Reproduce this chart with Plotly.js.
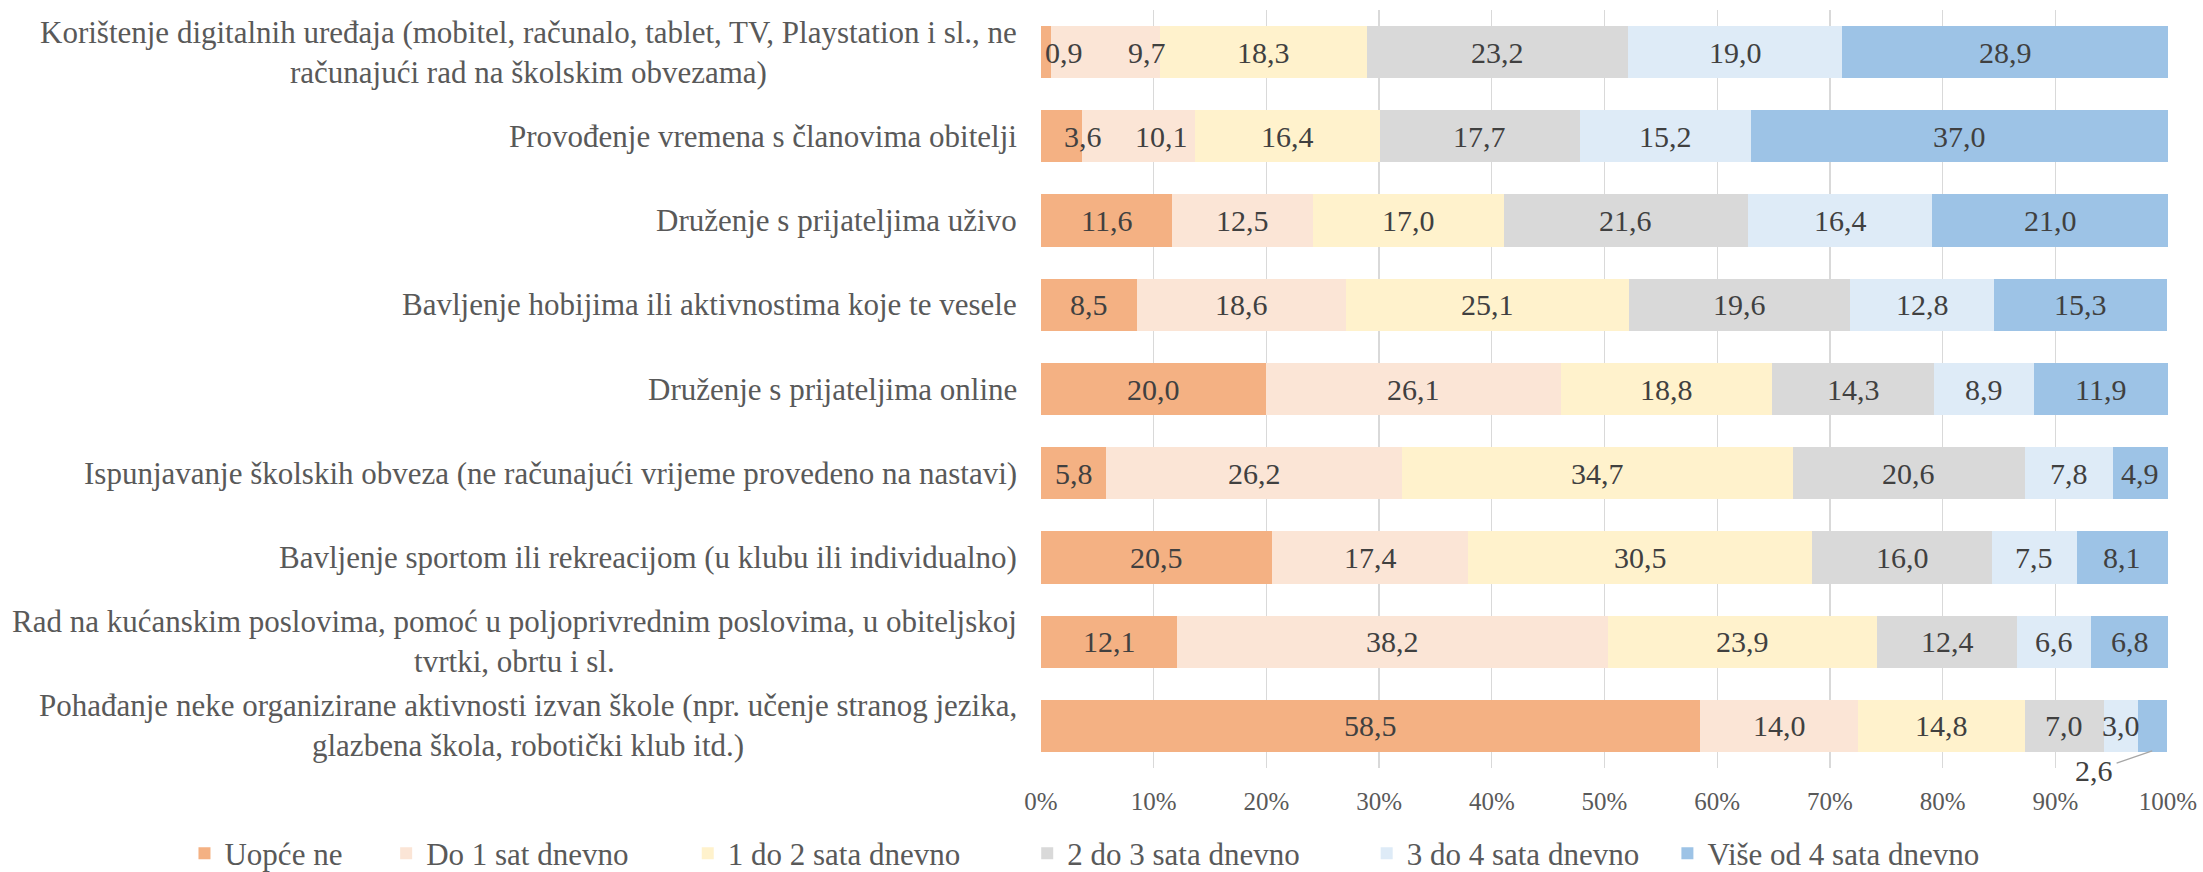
<!DOCTYPE html>
<html>
<head>
<meta charset="utf-8">
<script src="https://cdn.plot.ly/plotly-3.0.1.min.js"></script>
<style>html,body{margin:0;padding:0;background:#fff;}#chart{width:2203px;height:872px;}</style>
</head>
<body>
<div id="chart"></div>
<script>
const categories = [
  "Korištenje digitalnih uređaja (mobitel, računalo, tablet, TV, Playstation i sl., ne<br>računajući rad na školskim obvezama)",
  "Provođenje vremena s članovima obitelji",
  "Druženje s prijateljima uživo",
  "Bavljenje hobijima ili aktivnostima koje te vesele",
  "Druženje s prijateljima online",
  "Ispunjavanje školskih obveza (ne računajući vrijeme provedeno na nastavi)",
  "Bavljenje sportom ili rekreacijom (u klubu ili individualno)",
  "Rad na kućanskim poslovima, pomoć u poljoprivrednim poslovima, u obiteljskoj<br>tvrtki, obrtu i sl.",
  "Pohađanje neke organizirane aktivnosti izvan škole (npr. učenje stranog jezika,<br>glazbena škola, robotički klub itd.)"
];
const seriesNames = ["Uopće ne", "Do 1 sat dnevno", "1 do 2 sata dnevno", "2 do 3 sata dnevno", "3 do 4 sata dnevno", "Više od 4 sata dnevno"];
const uopceNe  = [0.9, 3.6, 11.6, 8.5, 20.0, 5.8, 20.5, 12.1, 58.5];
const do1Sat   = [9.7, 10.1, 12.5, 18.6, 26.1, 26.2, 17.4, 38.2, 14.0];
const od1do2   = [18.3, 16.4, 17.0, 25.1, 18.8, 34.7, 30.5, 23.9, 14.8];
const od2do3   = [23.2, 17.7, 21.6, 19.6, 14.3, 20.6, 16.0, 12.4, 7.0];
const od3do4   = [19.0, 15.2, 16.4, 12.8, 8.9, 7.8, 7.5, 6.6, 3.0];
const viseOd4  = [28.9, 37.0, 21.0, 15.3, 11.9, 4.9, 8.1, 6.8, 2.6];
const xTicks   = [0, 10, 20, 30, 40, 50, 60, 70, 80, 90, 100];

const seriesValues = [uopceNe, do1Sat, od1do2, od2do3, od3do4, viseOd4];
const colors = ["#F4B183", "#FBE5D6", "#FFF2CC", "#D9D9D9", "#DEEBF7", "#9DC3E6"];
const FONT = "Liberation Serif, Times New Roman, serif";
// extra spacing after each legend entry (number of non-breaking spaces)
const legendPad = [5, 7, 8, 8, 3, 0];

// label placement tweaks (pixel shifts), keyed "series,row"
const labelShift = {"0,0": 18, "1,0": 41, "0,1": 22, "1,1": 23};
const calloutKey = "5,8";

const traces = seriesValues.map((vals, s) => ({
  type: "bar",
  orientation: "h",
  name: seriesNames[s] + "\u00a0".repeat(legendPad[s]),
  y: categories,
  x: vals,
  marker: {color: colors[s], line: {width: 0}},
  hoverinfo: "x+name"
}));

const annotations = [];
// category labels (centered lines, right-anchored)
categories.forEach((c) => {
  annotations.push({
    xref: "paper", yref: "y", x: 0, y: c, text: c,
    xanchor: "right", yanchor: "middle", align: "center", xshift: -22,
    showarrow: false, font: {family: FONT, size: 31, color: "#595959"}
  });
});
// data labels
categories.forEach((c, i) => {
  let cum = 0;
  seriesValues.forEach((vals, s) => {
    const v = vals[i];
    const mid = cum + v / 2;
    cum += v;
    const txt = v.toFixed(1).replace(".", ",");
    const key = s + "," + i;
    if (key === calloutKey) {
      annotations.push({
        xref: "x", yref: "y", x: mid, y: c, text: txt, yshift: -25,
        showarrow: true, arrowhead: 0, arrowwidth: 1.2, arrowcolor: "#A6A6A6",
        ax: -58, ay: 20, standoff: 0, startstandoff: 2,
        font: {family: FONT, size: 30, color: "#404040"}
      });
    } else {
      annotations.push({
        xref: "x", yref: "y", x: mid, y: c, text: txt,
        xshift: labelShift[key] || 0,
        showarrow: false, font: {family: FONT, size: 30, color: "#404040"}
      });
    }
  });
});

const layout = {
  width: 2203, height: 872,
  margin: {l: 1041, r: 35, t: 10, b: 104, pad: 0, autoexpand: false},
  paper_bgcolor: "#fff", plot_bgcolor: "#fff",
  barmode: "stack",
  bargap: 0.38,
  font: {family: FONT, color: "#595959"},
  xaxis: {
    range: [0, 100], tickvals: xTicks, ticktext: xTicks.map(t => t + "%"),
    showgrid: true, gridcolor: "#D9D9D9", gridwidth: 1.3, zeroline: false,
    showline: false, ticks: "outside", ticklen: 11, tickcolor: "rgba(0,0,0,0)",
    tickfont: {family: FONT, size: 25, color: "#595959"}, fixedrange: true
  },
  yaxis: {
    type: "category", categoryorder: "array", categoryarray: categories,
    autorange: "reversed", showticklabels: false, showgrid: false, zeroline: false,
    showline: false, ticks: "", fixedrange: true
  },
  showlegend: true,
  legend: {
    orientation: "h", xref: "paper", yref: "paper",
    x: -0.76, xanchor: "left", y: -0.113, yanchor: "middle",
    font: {family: FONT, size: 31, color: "#595959"},
    traceorder: "normal", itemclick: false, itemdoubleclick: false
  },
  annotations: annotations
};

Plotly.newPlot("chart", traces, layout, {displayModeBar: false, staticPlot: true});
</script>
</body>
</html>
